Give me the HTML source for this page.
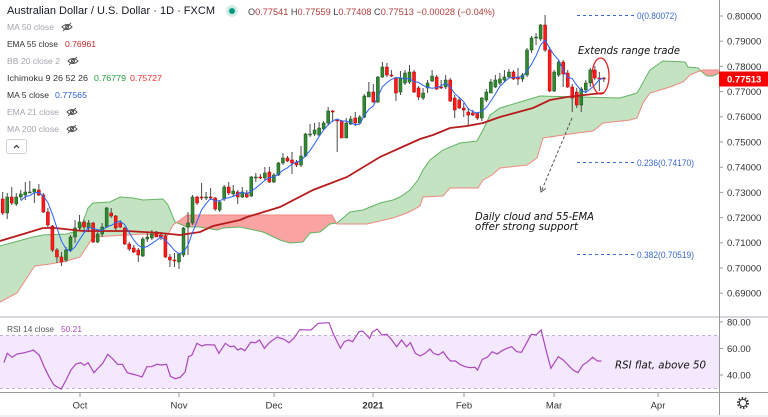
<!DOCTYPE html>
<html><head><meta charset="utf-8">
<style>
html,body{margin:0;padding:0;background:#fff;}
svg{display:block;}
text{font-family:"Liberation Sans",Arial,sans-serif;}
.it{font-style:italic;font-family:"DejaVu Sans","Liberation Sans",sans-serif;}
</style></head>
<body>
<svg id="c" width="768" height="417" viewBox="0 0 768 417" xmlns="http://www.w3.org/2000/svg">
<rect width="768" height="417" fill="#fff"/>
<g id="cloud"></g>
<g id="candles"></g>
<g id="lines"></g>

<!-- Fib lines -->
<g stroke="#3a66d0" stroke-width="1" stroke-dasharray="3 3">
<line x1="577" y1="15.5" x2="635" y2="15.5"/>
<line x1="577" y1="162.5" x2="635" y2="162.5"/>
<line x1="577" y1="254.5" x2="635" y2="254.5"/>
</g>
<g fill="#3a66d0" font-size="9">
<text x="637" y="19" textLength="40" lengthAdjust="spacingAndGlyphs">0(0.80072)</text>
<text x="637" y="166" textLength="57" lengthAdjust="spacingAndGlyphs">0.236(0.74170)</text>
<text x="637" y="258" textLength="57" lengthAdjust="spacingAndGlyphs">0.382(0.70519)</text>
</g>

<!-- annotations -->
<ellipse cx="600.5" cy="76" rx="8.5" ry="18" fill="none" stroke="#e52020" stroke-width="1.3"/>
<line x1="572" y1="118" x2="541" y2="192" stroke="#555" stroke-width="1" stroke-dasharray="3 2"/>
<polyline points="545.8,188.4 541,192 540.2,186.1" fill="none" stroke="#555" stroke-width="1"/>
<g fill="#111" font-size="11">
<text class="it" x="578" y="54" textLength="102" lengthAdjust="spacingAndGlyphs">Extends range trade</text>
<text class="it" x="475" y="220" textLength="119" lengthAdjust="spacingAndGlyphs">Daily cloud and 55-EMA</text>
<text class="it" x="475" y="230" textLength="103" lengthAdjust="spacingAndGlyphs">offer strong support</text>
</g>

<!-- header -->
<text x="7" y="14" font-size="11" fill="#131722" textLength="208" lengthAdjust="spacingAndGlyphs">Australian Dollar / U.S. Dollar · 1D · FXCM</text>
<circle cx="232" cy="11" r="6" fill="#089981" opacity="0.18"/>
<circle cx="232" cy="11" r="3" fill="#089981"/>
<text x="248" y="15" font-size="8.8" fill="#b23b3b" textLength="247" lengthAdjust="spacingAndGlyphs"><tspan fill="#444">O</tspan>0.77541 <tspan fill="#444">H</tspan>0.77559 <tspan fill="#444">L</tspan>0.77408 <tspan fill="#444">C</tspan>0.77513 −0.00028 (−0.04%)</text>

<!-- legend -->
<g font-size="8.5">
<text x="7" y="30" fill="#a3a6af" textLength="47" lengthAdjust="spacingAndGlyphs">MA 50 close</text>
<text x="7" y="47" fill="#333" textLength="51" lengthAdjust="spacingAndGlyphs">EMA 55 close</text>
<text x="65" y="47" fill="#c62828" textLength="31" lengthAdjust="spacingAndGlyphs">0.76961</text>
<text x="7" y="64" fill="#a3a6af" textLength="53" lengthAdjust="spacingAndGlyphs">BB 20 close 2</text>
<text x="7" y="81" fill="#333" textLength="81" lengthAdjust="spacingAndGlyphs">Ichimoku 9 26 52 26</text>
<text x="94" y="81" fill="#22a03a" textLength="32" lengthAdjust="spacingAndGlyphs">0.76779</text>
<text x="130" y="81" fill="#f23030" textLength="32" lengthAdjust="spacingAndGlyphs">0.75727</text>
<text x="7" y="98" fill="#333" textLength="42" lengthAdjust="spacingAndGlyphs">MA 5 close</text>
<text x="55" y="98" fill="#2b5fd9" textLength="32" lengthAdjust="spacingAndGlyphs">0.77565</text>
<text x="7" y="115" fill="#a3a6af" textLength="52" lengthAdjust="spacingAndGlyphs">EMA 21 close</text>
<text x="7" y="132" fill="#a3a6af" textLength="52" lengthAdjust="spacingAndGlyphs">MA 200 close</text>
</g>
<g fill="none" stroke="#555" stroke-width="1">
<g transform="translate(67,27)"><path d="M-5,0 Q0,-5 5,0 Q0,5 -5,0Z"/><circle r="1.6"/><line x1="-4" y1="4" x2="4" y2="-4"/></g>
<g transform="translate(73,61)"><path d="M-5,0 Q0,-5 5,0 Q0,5 -5,0Z"/><circle r="1.6"/><line x1="-4" y1="4" x2="4" y2="-4"/></g>
<g transform="translate(72,112)"><path d="M-5,0 Q0,-5 5,0 Q0,5 -5,0Z"/><circle r="1.6"/><line x1="-4" y1="4" x2="4" y2="-4"/></g>
<g transform="translate(72,129)"><path d="M-5,0 Q0,-5 5,0 Q0,5 -5,0Z"/><circle r="1.6"/><line x1="-4" y1="4" x2="4" y2="-4"/></g>
</g>
<rect x="6.5" y="139.5" width="20" height="14" rx="2" fill="#fff" stroke="#d1d4dc"/>
<polyline points="14,148 16.5,145.5 19,148" fill="none" stroke="#333" stroke-width="1.2"/>

<!-- RSI pane -->
<rect x="0" y="316" width="768" height="2" fill="#d6d8de"/>
<rect x="0" y="335.5" width="719" height="53" fill="#f3e8fd"/>
<g stroke="#c4b0d6" stroke-width="1" stroke-dasharray="3 3">
<line x1="0" y1="335.5" x2="719" y2="335.5"/>
<line x1="0" y1="388.5" x2="719" y2="388.5"/>
</g>
<g id="rsi"></g>
<text x="7" y="332" font-size="8.5" fill="#555" textLength="47" lengthAdjust="spacingAndGlyphs">RSI 14 close</text>
<text x="61" y="332" font-size="8.5" fill="#ab47bc" textLength="21" lengthAdjust="spacingAndGlyphs">50.21</text>
<text class="it" x="615" y="368.5" font-size="10.5" fill="#111" textLength="91" lengthAdjust="spacingAndGlyphs">RSI flat, above 50</text>

<!-- axes -->
<line x1="719.5" y1="0" x2="719.5" y2="417" stroke="#9a9a9a" stroke-width="1"/>
<line x1="0" y1="392.5" x2="768" y2="392.5" stroke="#9a9a9a" stroke-width="1"/>
<rect x="0" y="415" width="768" height="2" fill="#eef0f4"/>
<g id="ticks" stroke="#9a9a9a" stroke-width="1"></g>
<g font-size="9.5" fill="#333">
<text x="727" y="19.4">0.80000</text>
<text x="727" y="44.6">0.79000</text>
<text x="727" y="69.8">0.78000</text>
<text x="727" y="95">0.77000</text>
<text x="727" y="120.2">0.76000</text>
<text x="727" y="145.4">0.75000</text>
<text x="727" y="170.6">0.74000</text>
<text x="727" y="195.8">0.73000</text>
<text x="727" y="221">0.72000</text>
<text x="727" y="246.2">0.71000</text>
<text x="727" y="271.4">0.70000</text>
<text x="727" y="296.6">0.69000</text>
<text x="727" y="325.4">80.00</text>
<text x="727" y="351.9">60.00</text>
<text x="727" y="378.4">40.00</text>
</g>
<rect x="719" y="71.5" width="49" height="15" fill="#f80000"/>
<text x="727" y="82.5" font-size="9.5" font-weight="bold" fill="#fff">0.77513</text>
<g font-size="9.5" fill="#333" text-anchor="middle">
<text x="80" y="408.5">Oct</text>
<text x="179" y="408.5">Nov</text>
<text x="274" y="408.5">Dec</text>
<text x="373" y="408.5" font-weight="bold">2021</text>
<text x="464" y="408.5">Feb</text>
<text x="554" y="408.5">Mar</text>
<text x="658" y="408.5">Apr</text>
</g>
<g transform="translate(743,403)">
<circle r="5" fill="none" stroke="#333" stroke-width="2" stroke-dasharray="1.6 1.54"/>
<circle r="3.6" fill="#fff" stroke="#333" stroke-width="1"/>
</g>
</svg>
<script>
(function(){
const ns="http://www.w3.org/2000/svg";
function el(tag,a,p){const e=document.createElementNS(ns,tag);for(const k in a)e.setAttribute(k,a[k]);p.appendChild(e);return e;}
const X=i=>2.7+4.52*i;
const D=`0 r 199 213 192 215
1 g 197 213 193 219
2 r 197 203 187 205
3 g 197 204 193 206
4 g 194 197 190 200
5 g 192 195 182 200
6 g 192 193 181 193
7 g 189 192 189 203
8 r 190 195 184 196
9 r 195 212 193 213
10 r 212 225 208 227
11 r 226 250 225 252
12 r 250 257 248 263
13 r 257 262 252 266
14 g 250 260 247 262
15 g 237 250 235 252
16 g 228 237 220 243
17 g 222 228 215 230
18 r 222 227 220 233
19 g 223 228 220 232
20 r 223 242 222 243
21 g 234 242 232 243
22 g 227 234 223 237
23 g 208 227 207 228
24 r 213 216 208 218
25 r 216 228 215 230
26 r 223 227 220 228
27 r 228 244 227 245
28 r 244 249 242 251
29 r 248 252 245 253
30 r 250 255 248 262
31 g 239 256 237 257
32 g 237 239 233 242
33 g 234 238 230 240
34 r 232 237 231 237
35 r 235 237 232 240
36 r 236 257 234 258
37 r 257 260 254 267
38 r 260 261 253 267
39 g 254 262 253 269
40 g 228 255 227 257
41 g 223 227 212 255
42 g 197 223 195 225
43 r 197 203 196 205
44 r 197 198 183 200
45 g 197 198 192 200
46 r 197 198 188 200
47 r 198 209 197 211
48 g 202 210 200 212
49 g 187 199 185 201
50 r 187 193 182 195
51 g 191 194 185 197
52 r 192 197 190 204
53 g 192 197 187 198
54 r 193 197 190 198
55 g 177 196 176 197
56 g 177 178 173 182
57 r 177 178 174 179
58 g 173 178 167 180
59 r 172 182 167 183
60 g 175 182 173 183
61 g 163 175 162 176
62 g 158 163 153 165
63 r 158 161 156 162
64 r 160 163 152 174
65 r 162 165 160 167
66 g 156 165 146 167
67 g 134 156 133 157
68 g 134 135 124 137
69 g 130 134 123 136
70 g 128 135 122 137
71 g 123 129 121 130
72 g 111 123 107 125
73 r 111 112 110 122
74 r 120 121 120 152
75 r 121 138 120 138
76 g 123 138 118 138
77 g 119 124 116 125
78 r 118 123 112 126
79 g 117 123 115 124
80 g 96 117 94 118
81 g 92 97 82 97
82 r 92 102 84 103
83 g 77 102 76 103
84 g 67 77 62 78
85 r 67 75 63 77
86 r 75 76 70 77
87 r 78 93 77 101
88 g 78 92 71 95
89 g 73 83 70 85
90 g 72 82 65 84
91 r 72 92 70 93
92 r 88 97 86 100
93 g 93 98 88 100
94 g 83 88 80 93
95 g 76 81 70 82
96 r 77 89 75 90
97 r 87 88 80 89
98 g 80 87 75 89
99 r 80 101 78 102
100 r 98 110 95 118
101 r 100 108 97 109
102 r 108 110 103 117
103 r 112 115 108 126
104 r 113 115 110 116
105 r 113 118 112 120
106 g 98 118 97 121
107 g 92 100 89 102
108 g 82 93 79 93
109 g 80 87 75 88
110 g 79 83 73 85
111 g 77 80 70 82
112 g 72 77 69 78
113 r 72 79 70 80
114 r 77 79 68 85
115 g 75 79 73 82
116 g 50 75 48 77
117 g 38 50 36 53
118 g 37 38 33 45
119 g 25 39 24 41
120 r 25 50 15 52
121 r 50 91 47 92
122 g 72 91 70 92
123 g 62 75 60 77
124 r 62 74 60 87
125 r 73 87 70 88
126 r 87 98 84 112
127 r 92 105 88 108
128 g 89 105 87 112
129 g 83 90 80 93
130 g 70 83 68 87
131 r 70 78 66 80
132 r 78 79 72 91
133 r 78 79 77 82`;
// cloud
const A=[[0,246],[33,237],[43,235],[67,234],[80,230],[88,208],[93,203],[110,202],[120,197],[133,198],[143,200],[163,199],[168,205],[175,222],[187,227],[200,227],[217,230],[223,228],[240,227],[263,232],[280,240],[290,243],[303,242],[310,233],[320,232],[330,224],[337,223],[350,212],[363,210],[380,203],[393,200],[400,197],[410,190],[418,180],[423,170],[430,160],[443,150],[460,143],[477,141],[483,130],[490,115],[500,108],[520,102],[540,96],[620,98],[627,96],[637,93],[640,88],[647,75],[650,70],[660,63],[663,61],[685,62],[688,67],[698,68],[702,72],[707,76],[713,76],[719,73]];
const B=[[0,302],[17,293],[32,270],[35,266],[50,264],[67,261],[80,257],[88,245],[93,237],[110,236],[143,234],[167,236],[173,225],[180,220],[187,215],[332,215],[337,224],[367,224],[380,221],[393,218],[407,213],[413,210],[420,206],[423,197],[443,196],[450,188],[478,188],[483,180],[492,175],[500,168],[527,165],[537,158],[543,138],[577,133],[593,131],[597,128],[603,123],[630,120],[637,118],[643,103],[650,93],[670,87],[683,82],[690,75],[697,72],[703,70],[719,70]];
function ip(p,x){if(x<=p[0][0])return p[0][1];for(let k=1;k<p.length;k++){if(x<=p[k][0]){const a=p[k-1],b=p[k];return a[1]+(b[1]-a[1])*(x-a[0])/(b[0]-a[0]);}}return p[p.length-1][1];}
const cl=document.getElementById('cloud');
let gTop=[],gBot=[],rTop=[],rBot=[];
for(let x=0;x<=719;x+=0.5){const a=ip(A,x),b=ip(B,x),m=Math.max(a,b);gTop.push(x+','+a);gBot.unshift(x+','+m);rTop.push(x+','+b);rBot.unshift(x+','+m);}
el('polygon',{points:gTop.concat(gBot).join(' '),fill:'#c4e3c2'},cl);
el('polygon',{points:rTop.concat(rBot).join(' '),fill:'#f9a3a3'},cl);
el('polyline',{points:A.map(p=>p.join(',')).join(' '),fill:'none',stroke:'#62b562','stroke-width':1},cl);
el('polyline',{points:B.map(p=>p.join(',')).join(' '),fill:'none',stroke:'#f08a80','stroke-width':1},cl);
// candles
const cg=document.getElementById('candles');
const closes=[];
D.trim().split('\n').forEach(l=>{const r=l.trim().split(/\s+/);const i=+r[0],c=r[1],bt=+r[2],bb=+r[3],wt=+r[4],wb=+r[5];const x=X(i);
el('line',{x1:x,x2:x,y1:wt,y2:wb,stroke:'#4a4a4a','stroke-width':1},cg);
el('rect',{x:x-1.5,y:bt,width:3,height:Math.max(bb-bt,1),fill:c=='g'?'#2f8a2f':'#ff1a1a',stroke:c=='g'?'#1d4d1d':'#b00000','stroke-width':0.5},cg);
closes[i]=c=='g'?bt:bb;});
const lg=document.getElementById('lines');
const E=[[0,241],[20,235],[43,228],[55,228],[83,231],[127,231],[160,233],[180,235],[200,232],[213,226],[240,220],[247,217],[280,207],[313,190],[347,177],[380,157],[400,148],[420,139],[433,135],[450,128],[467,126],[483,123],[500,117],[533,108],[550,100],[567,97],[593,94],[604,93]];
el('polyline',{points:E.map(p=>p.join(',')).join(' '),fill:'none',stroke:'#b71c1c','stroke-width':1.8},lg);
let mp=[];for(let i=4;i<closes.length;i++){let s=0;for(let k=i-4;k<=i;k++)s+=closes[k];mp.push(X(i).toFixed(1)+','+(s/5).toFixed(1));}
el('polyline',{points:mp.join(' '),fill:'none',stroke:'#2962ff','stroke-width':1},lg);
// RSI
const R=[8,188,15,160,25,172,35,162,50,158,65,152,68,150,80,165,90,200,100,230,110,255,125,267,135,240,145,210,155,192,165,188,172,196,180,188,192,218,200,205,210,190,220,163,230,176,240,193,250,193,260,218,270,222,280,226,290,231,300,200,310,200,320,193,330,195,340,193,348,229,358,236,368,232,378,216,385,170,392,165,402,130,412,138,420,134,438,135,447,160,460,130,470,140,478,138,485,150,492,145,500,152,512,127,522,128,530,120,540,145,550,128,566,111,580,118,590,128,600,115,612,89,635,90,650,70,672,68,680,100,695,145,703,125,712,120,720,125,733,95,740,93,755,115,760,97,770,87,780,105,790,103,800,120,810,140,820,120,830,140,838,128,848,160,858,168,868,160,878,147,885,160,895,165,905,155,912,170,920,183,930,183,940,194,950,200,960,203,970,202,975,210,985,178,995,172,1005,155,1015,162,1025,152,1035,145,1045,140,1055,155,1065,157,1075,130,1085,103,1095,105,1105,90,1115,150,1125,205,1140,170,1150,180,1160,195,1170,210,1180,218,1190,195,1200,185,1210,172,1220,183,1228,183];
let rp=[];for(let k=0;k<R.length;k+=2)rp.push((R[k]/2.042).toFixed(1)+','+(300+R[k+1]/3).toFixed(1));
el('polyline',{points:rp.join(' '),fill:'none',stroke:'#ab47bc','stroke-width':1.2},document.getElementById('rsi'));
// ticks
const tg=document.getElementById('ticks');
[16,41.2,66.4,91.6,116.8,142,167.2,192.4,217.6,242.8,268,293.2,322,348.5,375].forEach(y=>el('line',{x1:719,x2:723,y1:y,y2:y},tg));
[80,179,274,373,464,554,658].forEach(x=>el('line',{x1:x,x2:x,y1:393,y2:397},tg));
})();
</script>
</body></html>
